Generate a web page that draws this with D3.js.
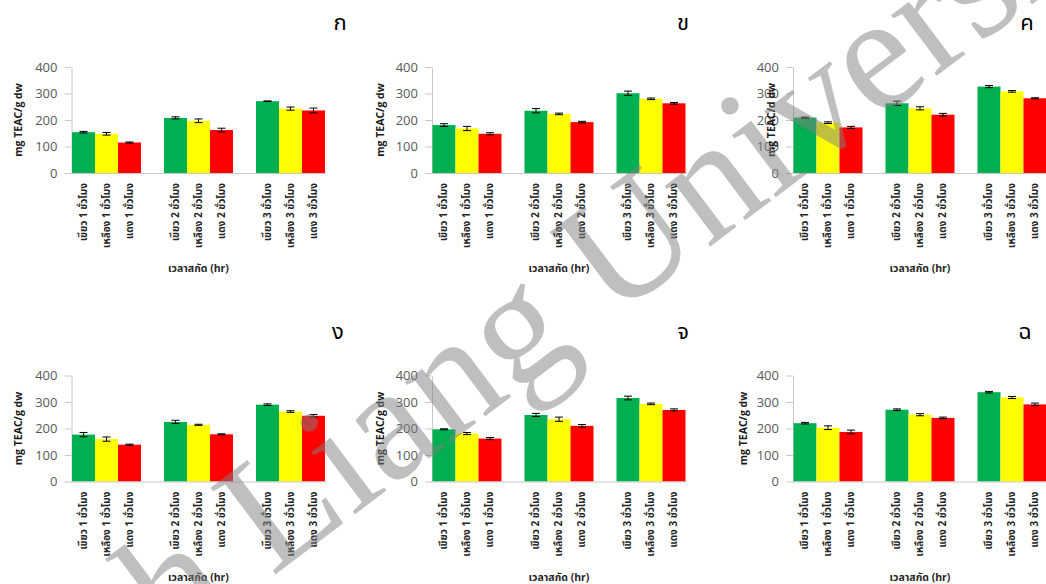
<!DOCTYPE html>
<html>
<head>
<meta charset="utf-8">
<script src="https://cdn.jsdelivr.net/npm/d3@7"></script>
<style>
  body { margin: 0; background: #fff; }
  svg { display: block; }
</style>
</head>
<body>
<div id="chart"></div>
<script>
// ---- data ----
const hours = ["1", "2", "3"];
const shades = ["เขียว", "เหลือง", "แดง"];
const yTicks = [0, 100, 200, 300, 400];
const panelTitles = ["ก", "ข", "ค", "ง", "จ", "ฉ"];
const yLabels = ["mg TEAC/g dw", "mg TEAC/g dw", "mg TEAC/d dw", "mg TEAC/g dw", "mg TEAC/g dw", "mg TEAC/g dw"];
const xTitle = "เวลาสกัด (hr)";

// rows = hours, columns = shades
const valuesKo  = [[154, 148, 115], [208, 197, 162], [271, 243, 236]];
const errorsKo  = [[3, 5, 2], [4, 7, 7], [1, 6, 9]];
const valuesKho = [[181, 168, 148], [235, 223, 192], [301, 280, 263]];
const errorsKho = [[5, 8, 4], [8, 3, 3], [8, 3, 3]];
const valuesKho2 = [[209, 190, 172], [263, 244, 220], [326, 308, 282]];
const errorsKho2 = [[2, 3, 4], [8, 6, 5], [4, 3, 2]];
const valuesNgo = [[177, 160, 139], [225, 214, 178], [290, 264, 248]];
const errorsNgo = [[8, 8, 2], [6, 2, 2], [3, 3, 5]];
const valuesJo  = [[197, 181, 162], [251, 235, 210], [315, 293, 270]];
const errorsJo  = [[2, 4, 4], [6, 8, 5], [7, 3, 4]];
const valuesCho = [[220, 203, 187], [271, 252, 240], [337, 317, 291]];
const errorsCho = [[3, 7, 7], [3, 4, 3], [3, 4, 5]];

const panelValues = [valuesKo, valuesKho, valuesKho2, valuesNgo, valuesJo, valuesCho];
const panelErrors = [errorsKo, errorsKho, errorsKho2, errorsNgo, errorsJo, errorsCho];

// ---- layout / style ----
const W = 1046, H = 584;
const shadeColour = d3.scaleOrdinal().domain(shades).range(["#00b050", "#ffff00", "#ff0000"]);
const layout = [
  {x: 0,     y: 0,     titleX: 340,  labelX: 18},
  {x: 360.5, y: 0,     titleX: 683,  labelX: 19},
  {x: 721.5, y: 0,     titleX: 1027, labelX: 49},
  {x: 0,     y: 308.5, titleX: 338,  labelX: 18},
  {x: 360.5, y: 308.5, titleX: 683,  labelX: 19},
  {x: 721.5, y: 308.5, titleX: 1025, labelX: 21}
];
const thaiFont = "'Noto Sans Thai', 'Noto Sans Thai UI', Tahoma, 'DejaVu Sans', sans-serif";

const svg = d3.select("#chart").append("svg")
    .attr("width", W)
    .attr("height", H);

svg.append("rect").attr("width", W).attr("height", H).attr("fill", "#fff");

const x = d3.scaleBand().domain(hours).range([72, 325]).paddingInner(0.25).paddingOuter(0);
const xs = d3.scaleBand().domain(shades).range([0, x.bandwidth()]);
const y = d3.scaleLinear().domain([0, 400]).range([173, 67]);

panelValues.forEach((vals, p) => {
    const L = layout[p];
    const g = svg.append("g").attr("transform", `translate(${L.x},${L.y})`);

    // y axis
    const yAxis = g.append("g")
        .attr("transform", `translate(${x.range()[0] - 0.5},0)`)
        .call(d3.axisLeft(y).tickValues(yTicks).tickSize(7).tickSizeOuter(0).tickPadding(7));
    yAxis.select(".domain").attr("stroke", "#c8c8c8");
    yAxis.selectAll(".tick line").attr("stroke", "#c8c8c8");
    yAxis.selectAll(".tick text")
        .attr("fill", "#595959")
        .style("font-family", "'Open Sans', sans-serif")
        .style("font-size", "13px");

    // bars
    const rows = [];
    hours.forEach((h, i) => shades.forEach((s, j) => {
        rows.push({h: h, s: s, v: vals[i][j], e: panelErrors[p][i][j]});
    }));

    g.selectAll(".bar")
        .data(rows)
        .enter().append("rect")
        .attr("class", "bar")
        .attr("x", d => x(d.h) + xs(d.s))
        .attr("width", xs.bandwidth())
        .attr("y", d => y(d.v))
        .attr("height", d => y(0) - y(d.v))
        .attr("fill", d => shadeColour(d.s));

    // x axis line
    g.append("line")
        .attr("x1", x.range()[0] - 1)
        .attr("x2", x.range()[1] + 1)
        .attr("y1", y(0) + 0.5)
        .attr("y2", y(0) + 0.5)
        .attr("stroke", "#c8c8c8")
        .attr("stroke-width", 1.2);

    // error bars
    const eb = g.selectAll(".err")
        .data(rows)
        .enter().append("g")
        .attr("class", "err")
        .attr("stroke", "#000")
        .attr("stroke-width", 1);
    const cx = d => x(d.h) + xs(d.s) + xs.bandwidth() / 2;
    eb.append("line")
        .attr("x1", cx).attr("x2", cx)
        .attr("y1", d => y(d.v - d.e)).attr("y2", d => y(d.v + d.e));
    [-1, 1].forEach(k => {
        eb.append("line")
            .attr("x1", d => cx(d) - 4).attr("x2", d => cx(d) + 4)
            .attr("y1", d => y(d.v + k * d.e)).attr("y2", d => y(d.v + k * d.e));
    });

    // category labels (rotated)
    g.selectAll(".cat")
        .data(rows)
        .enter().append("text")
        .attr("class", "cat")
        .attr("transform", d => `translate(${cx(d)},${y(0) + 10}) rotate(-90)`)
        .attr("text-anchor", "end")
        .attr("dominant-baseline", "central")
        .style("font-family", thaiFont)
        .style("font-size", "10px")
        .style("font-weight", "bold")
        .attr("fill", "#262626")
        .text(d => `${d.s} ${d.h} ชั่วโมง`);

    // x axis title
    g.append("text")
        .attr("x", x(hours[1]) + x.bandwidth() / 2)
        .attr("y", 272)
        .attr("text-anchor", "middle")
        .style("font-family", thaiFont)
        .style("font-size", "10.5px")
        .style("font-weight", "bold")
        .attr("fill", "#262626")
        .text(xTitle);

    // y axis title
    g.append("text")
        .attr("transform", `translate(${L.labelX},120) rotate(-90)`)
        .attr("text-anchor", "middle")
        .attr("dominant-baseline", "central")
        .style("font-family", "'Open Sans', sans-serif")
        .style("font-size", "10.5px")
        .style("font-weight", "bold")
        .attr("fill", "#1a1a1a")
        .text(yLabels[p]);

    // panel letter
    svg.append("text")
        .attr("x", L.titleX)
        .attr("y", L.y + 30)
        .attr("text-anchor", "middle")
        .style("font-family", thaiFont)
        .style("font-size", "22px")
        .attr("fill", "#000")
        .text(panelTitles[p]);
});

// watermark
svg.append("text")
    .attr("transform", "translate(-226,952) rotate(-37)")
    .style("font-family", "'Liberation Serif', serif")
    .style("font-size", "165px")
    .attr("fill", "#808080")
    .attr("opacity", 0.5)
    .text("Mae Fah Liang University");
</script>
</body>
</html>
